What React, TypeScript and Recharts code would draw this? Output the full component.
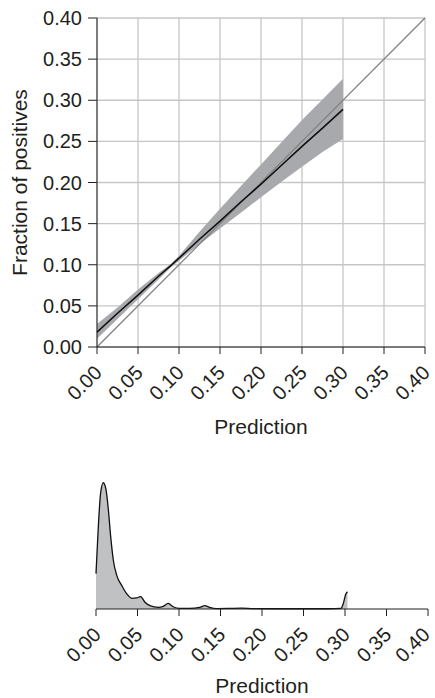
import {
  ComposedChart,
  AreaChart,
  Area,
  Line,
  XAxis,
  YAxis,
  CartesianGrid,
  ReferenceLine,
} from "recharts";

// calibration curve
const calX = [0, 0.025, 0.05, 0.075, 0.09, 0.1, 0.125, 0.15, 0.175, 0.2, 0.225, 0.25, 0.275, 0.3];
const fitted = [0.018, 0.041, 0.063, 0.086, 0.099, 0.108, 0.131, 0.153, 0.176, 0.198, 0.221, 0.244, 0.266, 0.289];
const ciLower = [0.01, 0.034, 0.058, 0.082, 0.097, 0.105, 0.125, 0.144, 0.163, 0.182, 0.201, 0.219, 0.237, 0.253];
const ciUpper = [0.028, 0.048, 0.07, 0.09, 0.101, 0.111, 0.14, 0.168, 0.195, 0.222, 0.249, 0.276, 0.301, 0.326];

// density of predictions
const densX = [
  0, 0.0028, 0.0056, 0.0088, 0.012, 0.0149, 0.0177, 0.0209, 0.025, 0.031, 0.0371, 0.043, 0.049,
  0.0538, 0.059, 0.065, 0.075, 0.081, 0.087, 0.093, 0.101, 0.113, 0.125, 0.131, 0.137, 0.145,
  0.16, 0.175, 0.19, 0.22, 0.25, 0.28, 0.295, 0.298, 0.301, 0.303,
];
const densY = [
  0.264, 0.615, 0.867, 0.942, 0.892, 0.741, 0.54, 0.364, 0.251, 0.176, 0.113, 0.08, 0.083,
  0.093, 0.05, 0.025, 0.012, 0.02, 0.042, 0.017, 0.005, 0.005, 0.012, 0.025, 0.012, 0.003,
  0.004, 0.007, 0.003, 0.002, 0.002, 0.002, 0.004, 0.042, 0.112, 0.129,
];

const ticks = [0, 0.05, 0.1, 0.15, 0.2, 0.25, 0.3, 0.35, 0.4];

const calData = calX.map((x, i) => ({
  x,
  fit: fitted[i],
  band: [ciLower[i], ciUpper[i]],
}));
const densData = densX.map((x, i) => ({ x, d: densY[i] }));

const FONT = "'Liberation Sans', Arial, Helvetica, sans-serif";
const INK = "#231f20";

const RotTick = (props: any) => {
  const { x, y, payload } = props;
  const ax = x + 6;
  const ay = y + 20;
  return (
    <text
      x={ax}
      y={ay}
      transform={`rotate(-45, ${ax}, ${ay})`}
      textAnchor="end"
      fontSize={20}
      fontFamily={FONT}
      fill={INK}
    >
      {payload.value.toFixed(2)}
    </text>
  );
};

export default function App() {
  return (
    <div style={{ position: "absolute", left: 0, top: 0, width: 435, height: 698, background: "#fff" }}>
      <div style={{ position: "absolute", left: 0, top: 0 }}>
        <ComposedChart
          width={435}
          height={440}
          data={calData}
          margin={{ top: 18, right: 10, left: 0, bottom: 0 }}
        >
          <CartesianGrid stroke="#c6c6c6" strokeWidth={1.3} />
          <XAxis
            dataKey="x"
            type="number"
            domain={[0, 0.4]}
            ticks={ticks}
            tick={<RotTick />}
            tickSize={7}
            tickMargin={0}
            height={93}
            stroke={INK}
            tickLine={{ stroke: INK }}
            label={{ value: "Prediction", position: "insideBottom", offset: 6, fontSize: 21, fontFamily: FONT, fill: INK }}
          />
          <XAxis xAxisId="top" orientation="top" dataKey="x" type="number" domain={[0, 0.4]} tick={false} tickLine={false} height={0} stroke={INK} />
          <YAxis
            type="number"
            domain={[0, 0.4]}
            ticks={ticks}
            tickFormatter={(v: number) => v.toFixed(2)}
            tickSize={9}
            tickMargin={6}
            width={97}
            stroke={INK}
            tick={{ fontSize: 20, fontFamily: FONT, fill: INK }}
            label={{ value: "Fraction of positives", angle: -90, position: "insideLeft", offset: 20, style: { textAnchor: "middle" }, fontSize: 21, fontFamily: FONT, fill: INK }}
          />
          <YAxis yAxisId="right" orientation="right" type="number" domain={[0, 0.4]} tick={false} tickLine={false} width={0} stroke={INK} />
          <Area dataKey="band" stroke="none" fill="#a7a9ac" fillOpacity={1} isAnimationActive={false} />
          <ReferenceLine segment={[{ x: 0, y: 0 }, { x: 0.4, y: 0.4 }]} stroke="#7d7d7d" strokeWidth={1.2} />
          <Line dataKey="fit" stroke="#111" strokeWidth={1.6} dot={false} isAnimationActive={false} />
        </ComposedChart>
      </div>
      <div style={{ position: "absolute", left: 0, top: 440 }}>
        <AreaChart
          width={435}
          height={258}
          data={densData}
          margin={{ top: 35, right: 7, left: 96, bottom: 0 }}
        >
          <XAxis
            dataKey="x"
            type="number"
            domain={[0, 0.4]}
            ticks={ticks}
            tick={<RotTick />}
            tickSize={7}
            tickMargin={0}
            height={89}
            stroke={INK}
            tickLine={{ stroke: INK }}
            label={{ value: "Prediction", position: "insideBottom", offset: 5, fontSize: 21, fontFamily: FONT, fill: INK }}
          />
          <XAxis xAxisId="top" orientation="top" dataKey="x" type="number" domain={[0, 0.4]} tick={false} tickLine={false} height={0} stroke={INK} />
          <YAxis type="number" domain={[0, 1]} tick={false} tickLine={false} width={0} stroke={INK} />
          <YAxis yAxisId="right" orientation="right" type="number" domain={[0, 1]} tick={false} tickLine={false} width={0} stroke={INK} />
          <Area
            dataKey="d"
            type="monotone"
            stroke="#111"
            strokeWidth={1.3}
            fill="#c0c1c3"
            fillOpacity={1}
            isAnimationActive={false}
          />
        </AreaChart>
      </div>
    </div>
  );
}
